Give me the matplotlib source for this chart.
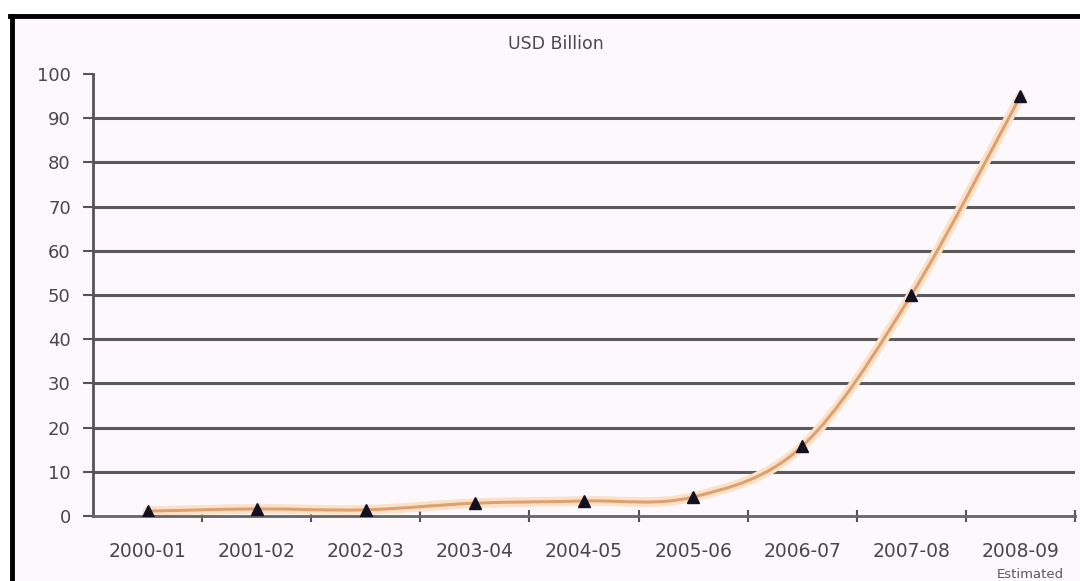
import matplotlib
matplotlib.use("Agg")
import matplotlib.pyplot as plt
from matplotlib.path import Path
from matplotlib.patches import PathPatch, Rectangle
import numpy as np

categories = ["2000-01", "2001-02", "2002-03", "2003-04", "2004-05",
              "2005-06", "2006-07", "2007-08", "2008-09"]
values = [1.1, 1.6, 1.4, 2.9, 3.4, 4.3, 15.8, 50, 95]
yticks = [0, 10, 20, 30, 40, 50, 60, 70, 80, 90, 100]
title = "USD Billion"
note = "Estimated"

W, H = 1080, 581
fig = plt.figure(figsize=(W / 100, H / 100), dpi=100)
fig.patch.set_facecolor("white")

# chart panel background and black frame
fig.patches.append(Rectangle((10 / W, 0), 1 - 10 / W, (H - 15) / H,
                             transform=fig.transFigure, facecolor="#fdf8fb",
                             edgecolor="none", zorder=-10))
fig.lines.append(plt.Line2D([10 / W, 1], [(H - 15.5) / H] * 2, transform=fig.transFigure,
                            color="black", lw=3.5, zorder=5))
fig.lines.append(plt.Line2D([11.5 / W] * 2, [0, (H - 15.5) / H], transform=fig.transFigure,
                            color="black", lw=3.5, zorder=5))

ax = fig.add_axes([93 / W, 65 / H, (1075 - 93) / W, (516 - 74) / H])
ax.set_facecolor("none")
x = np.arange(len(categories))
ax.set_xlim(-0.5, len(categories) - 0.5)
ax.set_ylim(0, 100)

# gridlines
for t in yticks[1:-1]:
    ax.axhline(t, color="#5a5a5a", lw=2.2, zorder=1)

# smooth line (Catmull-Rom as cubic Bezier path in data coordinates)
pts = np.column_stack([x, values]).astype(float)
verts = [tuple(pts[0])]
codes = [Path.MOVETO]
n = len(pts)
for i in range(n - 1):
    p0 = pts[i - 1] if i > 0 else pts[i]
    p1 = pts[i]
    p2 = pts[i + 1]
    p3 = pts[i + 2] if i + 2 < n else pts[i + 1]
    c1 = p1 + (p2 - p0) / 6.0
    c2 = p2 - (p3 - p1) / 6.0
    verts += [tuple(c1), tuple(c2), tuple(p2)]
    codes += [Path.CURVE4] * 3
path = Path(verts, codes)
ax.add_patch(PathPatch(path, facecolor="none", edgecolor="#fbe1c8", lw=7, zorder=2,
                       capstyle="round"))
ax.add_patch(PathPatch(path, facecolor="none", edgecolor="#dfa070", lw=2.2, zorder=3,
                       capstyle="round"))

ax.plot(x, values, linestyle="none", marker="^", color="#111122", markersize=8.5, zorder=4)

# axes styling
for s in ["top", "right"]:
    ax.spines[s].set_visible(False)
ax.spines["left"].set_color("#555555")
ax.spines["left"].set_linewidth(2)
ax.spines["bottom"].set_color("#666666")
ax.spines["bottom"].set_linewidth(2)
ax.set_yticks(yticks)
ax.set_yticklabels([str(t) for t in yticks], fontsize=13, color="#484848",
                   family="DejaVu Sans")
ax.tick_params(axis="y", length=7, width=1.5, color="#555555", pad=9)
ax.set_xticks(x)
ax.set_xticklabels(categories, fontsize=13.5, color="#484848", family="DejaVu Sans")
ax.set_xticks(np.arange(0.5, len(categories) - 0.5 + 1, 1), minor=True)
ax.tick_params(axis="x", which="major", length=0, pad=19)
ax.tick_params(axis="x", which="minor", length=9, width=1.5, color="#555555", direction="inout")

fig.text(556 / W, 1 - 44 / H, title, fontsize=12.5, color="#4a4a4a", ha="center", va="center",
         family="DejaVu Sans")
fig.text(1030 / W, 1 - 575 / H, note, fontsize=9.5, color="#5a5a5a", ha="center", va="center",
         family="DejaVu Sans")

fig.savefig("out.png", dpi=100)
